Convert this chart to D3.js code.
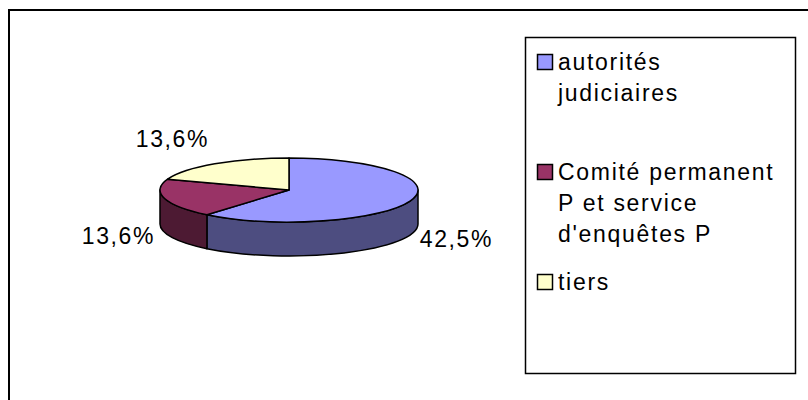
<!DOCTYPE html>
<html>
<head>
<meta charset="utf-8">
<script src="https://cdn.jsdelivr.net/npm/d3@7"></script>
<style>
  body { margin: 0; background: #fff; }
  text { font-family: "Liberation Sans", Arial, sans-serif; }
</style>
</head>
<body>
<script>
// data
var categories = ["autorités judiciaires", "Comité permanent P et service d'enquêtes P", "tiers"];
var values = [42.5, 13.6, 13.6];
var value_labels = ["42,5%", "13,6%", "13,6%"];
var legend_lines = [["autorités", "judiciaires"], ["Comité permanent", "P et service", "d'enquêtes P"], ["tiers"]];
var top_colors = ["#9999ff", "#993366", "#ffffcc"];
var side_colors = ["#4d4d80", "#4d1a33", "#808066"];

var width = 808;
var height = 400;

var svg = d3.select('body').append('svg')
      .attr('width', width)
      .attr('height', height);

// outer chart frame
svg.append('rect')
    .attr('x', 9).attr('y', 10)
    .attr('width', width + 20).attr('height', height + 20)
    .attr('fill', 'none')
    .attr('stroke', '#000')
    .attr('stroke-width', 2);

// pie geometry
var cx = 289, cy = 190, rx = 129, ry = 32, depth = 34;

var pie = d3.pie().sort(null).startAngle(0).endAngle(2 * Math.PI);
var slices = pie(values);

// angle measured clockwise from 12 o'clock, like d3.pie
var px = function (a) { return cx + rx * Math.sin(a); };
var py = function (a) { return cy - ry * Math.cos(a); };

var top_path = function (d) {
  var a0 = d.startAngle, a1 = d.endAngle;
  var large = (a1 - a0) > Math.PI ? 1 : 0;
  return 'M' + cx + ',' + cy +
         'L' + px(a0) + ',' + py(a0) +
         'A' + rx + ',' + ry + ' 0 ' + large + ' 1 ' + px(a1) + ',' + py(a1) + 'Z';
};

var side_path = function (d) {
  var s0 = Math.max(d.startAngle, Math.PI / 2);
  var s1 = Math.min(d.endAngle, 3 * Math.PI / 2);
  if (s1 <= s0) return null;
  return 'M' + px(s0) + ',' + py(s0) +
         'A' + rx + ',' + ry + ' 0 0 1 ' + px(s1) + ',' + py(s1) +
         'L' + px(s1) + ',' + (py(s1) + depth) +
         'A' + rx + ',' + ry + ' 0 0 0 ' + px(s0) + ',' + (py(s0) + depth) + 'Z';
};

var g = svg.append('g');

g.selectAll('path.side')
    .data(slices.filter(function (d) { return side_path(d) !== null; }))
    .enter()
    .append('path')
    .attr('class', 'side')
    .attr('d', side_path)
    .attr('fill', function (d) { return side_colors[d.index]; })
    .attr('stroke', '#000')
    .attr('stroke-width', 1.5)
    .attr('stroke-linejoin', 'round');

g.selectAll('path.top')
    .data(slices)
    .enter()
    .append('path')
    .attr('class', 'top')
    .attr('d', top_path)
    .attr('fill', function (d) { return top_colors[d.index]; })
    .attr('stroke', '#000')
    .attr('stroke-width', 1.5)
    .attr('stroke-linejoin', 'round');

// value labels, placed outside the slice middle
g.selectAll('text.val')
    .data(slices)
    .enter()
    .append('text')
    .attr('class', 'val')
    .attr('x', function (d) {
      var m = (d.startAngle + d.endAngle) / 2;
      return cx + 139 * Math.sin(m);
    })
    .attr('y', function (d) {
      var m = (d.startAngle + d.endAngle) / 2;
      var c = Math.cos(m);
      return c < 0 ? cy + depth - 44 * c : cy - 62 * c;
    })
    .attr('dy', '0.35em')
    .attr('text-anchor', function (d) {
      var m = (d.startAngle + d.endAngle) / 2;
      return Math.sin(m) >= 0 ? 'start' : 'end';
    })
    .attr('font-size', 23)
    .attr('letter-spacing', 1.6)
    .attr('fill', '#000')
    .text(function (d) { return value_labels[d.index]; });

// legend
var lx = 525, ly = 37, lw = 270, lh = 336;
svg.append('rect')
    .attr('x', lx + 0.5).attr('y', ly + 0.5)
    .attr('width', lw).attr('height', lh)
    .attr('fill', '#fff')
    .attr('stroke', '#000')
    .attr('stroke-width', 1.5);

var item = svg.selectAll('g.item')
    .data(categories)
    .enter()
    .append('g')
    .attr('class', 'item')
    .attr('transform', function (d, i) {
      return 'translate(' + (lx + 12) + ',' + (ly + 17 + i * 110) + ')';
    });

item.append('rect')
    .attr('x', 0.5).attr('y', 0.5)
    .attr('width', 15).attr('height', 15)
    .attr('fill', function (d, i) { return top_colors[i]; })
    .attr('stroke', '#000')
    .attr('stroke-width', 1.5);

item.selectAll('text')
    .data(function (d, i) { return legend_lines[i]; })
    .enter()
    .append('text')
    .attr('x', 21)
    .attr('y', function (d, j) { return 16 + j * 31; })
    .attr('font-size', 23)
    .attr('letter-spacing', 1.7)
    .attr('fill', '#000')
    .text(function (d) { return d; });
</script>
</body>
</html>
